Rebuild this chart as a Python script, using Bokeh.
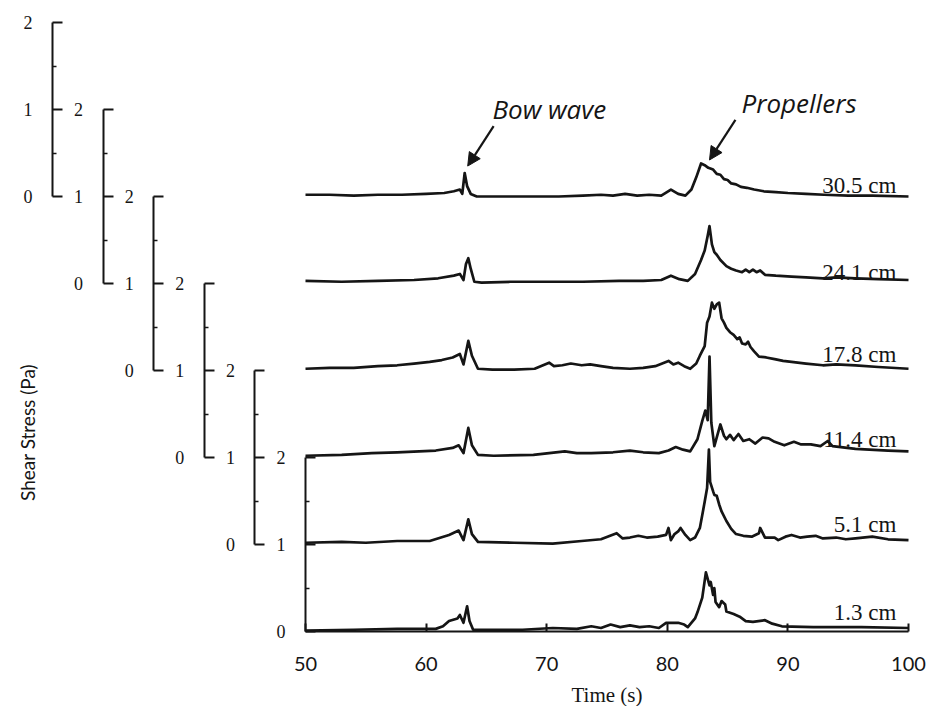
import math
from bokeh.plotting import figure
from bokeh.models import Range1d, LinearAxis, FixedTicker, Label, Arrow, NormalHead
from bokeh.core.properties import value
from bokeh.embed import file_html
from bokeh.resources import INLINE

# ---------------- data (time s, shear stress Pa, each on its own axis) -------------
trace_labels = ["1.3 cm", "5.1 cm", "11.4 cm", "17.8 cm", "24.1 cm", "30.5 cm"]
x_ticks = [50, 60, 70, 80, 90, 100]
y_ticks = [0, 1, 2]
y_minor_ticks = [0.5, 1.5]
offset_step = 1.0   # each record is shifted up by 1 Pa

trace_13 = [(50, 0.01), (54, 0.02), (57.6, 0.03), (60.8, 0.03), (61.4, 0.06), (61.9, 0.12),
            (62.6, 0.15), (62.8, 0.19), (63.1, 0.10), (63.4, 0.29), (63.6, 0.12), (63.9, 0.02),
            (65.6, 0.02), (68, 0.02), (70.5, 0.04), (72.5, 0.03), (73.7, 0.06), (74.5, 0.04),
            (75.3, 0.08), (76.1, 0.05), (76.9, 0.07), (77.7, 0.05), (78.5, 0.06), (79.3, 0.04),
            (79.9, 0.10), (80.9, 0.10), (81.4, 0.08), (81.7, 0.05), (82.3, 0.15), (82.5, 0.22),
            (82.9, 0.39), (83.2, 0.68), (83.5, 0.53), (83.6, 0.57), (83.8, 0.42), (83.9, 0.50),
            (84.0, 0.34), (84.3, 0.28), (84.5, 0.35), (84.8, 0.31), (84.9, 0.23), (85.5, 0.20),
            (86.0, 0.17), (86.5, 0.12), (87.1, 0.11), (88.1, 0.13), (88.7, 0.09), (89.5, 0.06),
            (92.1, 0.05), (96.1, 0.05), (100, 0.04)]

trace_51 = [(50, 0.02), (53, 0.03), (55, 0.02), (57.6, 0.04), (60.3, 0.04), (61.9, 0.11),
            (62.7, 0.16), (63.1, 0.05), (63.5, 0.29), (63.8, 0.12), (64.3, 0.03), (67.3, 0.02),
            (70.5, 0.01), (72.9, 0.04), (74.5, 0.06), (75.8, 0.13), (76.3, 0.07), (76.9, 0.08),
            (77.6, 0.10), (78.3, 0.08), (79.2, 0.09), (79.9, 0.11), (80.1, 0.19), (80.3, 0.05),
            (80.6, 0.12), (80.9, 0.15), (81.1, 0.19), (81.5, 0.11), (81.9, 0.05), (82.3, 0.08),
            (82.7, 0.19), (82.9, 0.34), (83.1, 0.49), (83.3, 0.65), (83.45, 1.09), (83.55, 0.72),
            (83.8, 0.61), (83.9, 0.57), (84.1, 0.56), (84.3, 0.46), (84.5, 0.38), (84.9, 0.27),
            (85.3, 0.18), (85.7, 0.12), (86.3, 0.10), (87.0, 0.09), (87.6, 0.13), (87.7, 0.19),
            (88.1, 0.08), (88.9, 0.08), (89.2, 0.05), (89.8, 0.09), (90.3, 0.11), (91.0, 0.08),
            (91.6, 0.09), (92.3, 0.10), (92.9, 0.07), (94, 0.08), (94.8, 0.06), (95.6, 0.07),
            (97.0, 0.09), (98.3, 0.06), (100, 0.05)]

trace_114 = [(50, 0.02), (53, 0.03), (55.5, 0.05), (57.6, 0.06), (60.8, 0.08), (62.2, 0.11),
             (62.7, 0.14), (63.1, 0.05), (63.5, 0.34), (63.8, 0.14), (64.3, 0.03), (65.6, 0.02),
             (68.9, 0.03), (71.5, 0.07), (72.5, 0.05), (73.7, 0.05), (75.5, 0.06), (76.9, 0.08),
             (78, 0.06), (79.3, 0.05), (80.1, 0.08), (80.7, 0.12), (81.3, 0.09), (81.9, 0.07),
             (82.5, 0.21), (82.9, 0.42), (83.15, 0.54), (83.35, 0.43), (83.5, 1.16), (83.65, 0.40),
             (83.9, 0.13), (84.4, 0.38), (84.7, 0.25), (84.9, 0.21), (85.2, 0.26), (85.5, 0.20),
             (85.9, 0.27), (86.3, 0.19), (86.8, 0.21), (87.3, 0.16), (87.9, 0.23), (88.4, 0.22),
             (88.9, 0.18), (89.7, 0.14), (90.5, 0.18), (91.1, 0.15), (91.9, 0.15), (92.7, 0.13),
             (93.3, 0.19), (93.7, 0.13), (95.6, 0.10), (98.3, 0.08), (100, 0.07)]

trace_178 = [(50, 0.02), (52, 0.03), (54, 0.03), (56, 0.05), (57.6, 0.06), (59, 0.08),
             (60.3, 0.10), (61.3, 0.12), (62.2, 0.15), (62.8, 0.19), (63.1, 0.07), (63.5, 0.34),
             (63.8, 0.17), (64.3, 0.02), (65.5, 0.01), (67.3, 0.01), (69, 0.02), (70.2, 0.09),
             (70.6, 0.05), (71.3, 0.06), (72, 0.08), (72.9, 0.06), (73.6, 0.07), (74.5, 0.05),
             (75.5, 0.03), (76.9, 0.02), (78, 0.03), (79, 0.05), (80.1, 0.11), (80.5, 0.07),
             (80.9, 0.09), (81.4, 0.05), (81.9, 0.02), (82.4, 0.08), (82.7, 0.17), (83.1, 0.28),
             (83.3, 0.55), (83.5, 0.62), (83.7, 0.78), (83.9, 0.71), (84.1, 0.76), (84.3, 0.78),
             (84.5, 0.60), (84.7, 0.55), (84.9, 0.49), (85.2, 0.44), (85.5, 0.41), (85.8, 0.36),
             (86.0, 0.38), (86.2, 0.31), (86.5, 0.30), (86.7, 0.33), (86.9, 0.27), (87.2, 0.22),
             (87.6, 0.16), (88.2, 0.15), (88.9, 0.13), (89.6, 0.11), (90.3, 0.10), (91.5, 0.08),
             (92.9, 0.06), (94, 0.07), (95.6, 0.06), (97.5, 0.04), (100, 0.02)]

trace_241 = [(50, 0.03), (53, 0.02), (56, 0.03), (59, 0.04), (61, 0.06), (62.3, 0.09),
             (62.8, 0.11), (63.1, 0.04), (63.3, 0.22), (63.5, 0.29), (63.7, 0.17), (64.0, 0.02),
             (64.6, 0.01), (67, 0.02), (70, 0.02), (73, 0.02), (76, 0.03), (78, 0.03),
             (79.5, 0.04), (80.3, 0.09), (81.0, 0.05), (81.7, 0.03), (82.3, 0.11), (82.8, 0.27),
             (83.1, 0.38), (83.35, 0.55), (83.5, 0.66), (83.7, 0.45), (83.9, 0.36), (84.1, 0.33),
             (84.4, 0.27), (84.9, 0.20), (85.3, 0.17), (85.7, 0.15), (86.2, 0.13), (86.5, 0.16),
             (86.8, 0.13), (87.1, 0.16), (87.4, 0.13), (87.7, 0.15), (88.1, 0.10), (89, 0.09),
             (90.3, 0.08), (91.5, 0.07), (92.9, 0.06), (94, 0.07), (95.6, 0.06), (97.5, 0.05),
             (100, 0.04)]

trace_305 = [(50, 0.02), (52, 0.02), (54, 0.01), (56, 0.02), (58, 0.02), (60, 0.03),
             (61.5, 0.04), (62.3, 0.06), (62.8, 0.08), (63.0, 0.03), (63.2, 0.27), (63.4, 0.12),
             (63.7, 0.03), (64.2, 0.0), (65, 0.0), (68, 0.0), (71, 0.0), (73, 0.01),
             (74.5, 0.02), (75.5, 0.01), (76.5, 0.03), (77.5, 0.01), (78.5, 0.02), (79.5, 0.01),
             (80.3, 0.08), (80.9, 0.03), (81.5, 0.01), (82.0, 0.08), (82.4, 0.22), (82.8, 0.38),
             (83.1, 0.36), (83.4, 0.33), (83.8, 0.31), (84.1, 0.26), (84.4, 0.25), (84.7, 0.20),
             (85.0, 0.19), (85.3, 0.15), (85.7, 0.14), (86.1, 0.11), (86.6, 0.10), (87.2, 0.08),
             (88, 0.06), (89, 0.05), (90, 0.04), (91.5, 0.03), (93, 0.02), (95, 0.01),
             (97, 0.01), (100, 0.0)]

traces = [trace_13, trace_51, trace_114, trace_178, trace_241, trace_305]

# ---------------- layout constants (pixels / offsets) --------------------------------
W, H = 926, 706
PLOT_LEFT_PX = 305      # where t = 50 s sits
PLOT_RIGHT_PX = 908     # where t = 100 s sits
AXIS_Y_PX = 631         # where 0 Pa of the lowest record sits
PX_PER_PA = 87.0
SCALE_STEP_PX = 50.6    # horizontal step between the stacked Pa scales
LABEL_LIFT = [0.22, 0.23, 0.21, 0.18, 0.13, 0.13]   # record label baseline above its zero
T0, T1 = x_ticks[0], x_ticks[-1]
px_per_s = (PLOT_RIGHT_PX - PLOT_LEFT_PX) / (T1 - T0)
X_START = T0 - PLOT_LEFT_PX / px_per_s
X_END = T1 + (W - PLOT_RIGHT_PX) / px_per_s
Y_BOT = -(H - AXIS_Y_PX) / PX_PER_PA
Y_TOP = AXIS_Y_PX / PX_PER_PA
step_s = SCALE_STEP_PX / px_per_s

INK = "#151515"
SERIF = "Liberation Serif"
SANS = "Lato"

p = figure(width=W, height=H, x_range=Range1d(X_START, X_END), y_range=Range1d(Y_BOT, Y_TOP),
           output_backend="svg", toolbar_location=None,
           min_border_left=0, min_border_right=0, min_border_top=0, min_border_bottom=0)
p.grid.visible = False
p.outline_line_color = None
p.background_fill_color = "white"
p.border_fill_color = "white"

for k, pts in enumerate(traces):
    t = [a for a, _ in pts]
    v = [b + k * offset_step for _, b in pts]
    p.line(t, v, line_color=INK, line_width=2.7, line_join="round")


def style_bracket(ax, loc):
    ax.fixed_location = loc
    ax.ticker = FixedTicker(ticks=y_ticks, minor_ticks=y_minor_ticks)
    ax.bounds = (y_ticks[0], y_ticks[-1])
    ax.axis_line_color = INK
    ax.axis_line_width = 2
    ax.major_tick_in = 10
    ax.major_tick_out = 0
    ax.major_tick_line_color = INK
    ax.major_tick_line_width = 2
    ax.minor_tick_in = 4
    ax.minor_tick_out = 0
    ax.minor_tick_line_color = INK
    ax.minor_tick_line_width = 1.5
    ax.major_label_standoff = 20
    ax.major_label_text_font = SERIF
    ax.major_label_text_font_size = "18px"
    ax.major_label_text_color = INK


style_bracket(p.yaxis[0], T0)
for k in range(1, len(traces)):
    name = f"rec{k}"
    p.extra_y_ranges[name] = Range1d(start=Y_BOT - k * offset_step, end=Y_TOP - k * offset_step)
    ax = LinearAxis(y_range_name=name)
    style_bracket(ax, T0 - k * step_s)
    p.add_layout(ax, "left")

xa = p.xaxis[0]
xa.fixed_location = 0
xa.ticker = FixedTicker(ticks=x_ticks, minor_ticks=[])
xa.bounds = (T0, T1)
xa.axis_line_color = INK
xa.axis_line_width = 2
xa.major_tick_in = 8
xa.major_tick_out = 0
xa.major_tick_line_color = INK
xa.major_tick_line_width = 2
xa.minor_tick_in = 0
xa.minor_tick_out = 0
xa.major_label_standoff = 25
xa.major_label_text_font = SANS
xa.major_label_text_font_size = "20px"
xa.major_label_text_color = INK

# axis titles
p.add_layout(Label(x=(T0 + T1) / 2, y=-(694 - AXIS_Y_PX) / PX_PER_PA, text="Time (s)",
                   text_align="center", text_baseline="middle",
                   text_font=SERIF, text_font_size="21px", text_color=INK))
p.add_layout(Label(x=T0 - (PLOT_LEFT_PX - 27) / px_per_s, y=(AXIS_Y_PX - 432) / PX_PER_PA,
                   text="Shear Stress (Pa)", angle=math.pi / 2, text_align="center",
                   text_baseline="middle", text_font=SANS, text_font_size="19px",
                   text_color=INK))

# record labels
p.text(x=[99.0] * len(trace_labels),
       y=[k * offset_step + LABEL_LIFT[k] for k in range(len(trace_labels))],
       text=trace_labels, text_align="right", text_baseline="alphabetic",
       text_font=value(SERIF), text_font_size="23px", text_color=INK)

# annotations with arrows, anchored on the peaks of the top record
top = trace_305
k_top = len(traces) - 1
bow = max((pt for pt in top if pt[0] < 70), key=lambda q: q[1])
prop = max((pt for pt in top if pt[0] > 80), key=lambda q: q[1])
arrow_vec = (2.15, 0.46)
for (pk, dx, dy, txt, tdx) in [(bow, 0.25, 0.08, "Bow wave", -0.1),
                               (prop, 0.7, 0.04, "Propellers", 0.5)]:
    tip_x = pk[0] + dx
    tip_y = pk[1] + k_top * offset_step + dy
    tail_x = tip_x + arrow_vec[0]
    tail_y = tip_y + arrow_vec[1]
    p.add_layout(Arrow(end=NormalHead(size=13, fill_color=INK, line_color=INK, line_width=1),
                       x_start=tail_x, y_start=tail_y, x_end=tip_x, y_end=tip_y,
                       line_color=INK, line_width=2.2))
    p.add_layout(Label(x=tail_x + tdx, y=tail_y + 0.2, text=txt, text_align="left",
                       text_baseline="alphabetic", text_font="Open Sans",
                       text_font_style="italic", text_font_size="26px", text_color=INK))

open("out.html", "w").write(file_html(p, INLINE))
